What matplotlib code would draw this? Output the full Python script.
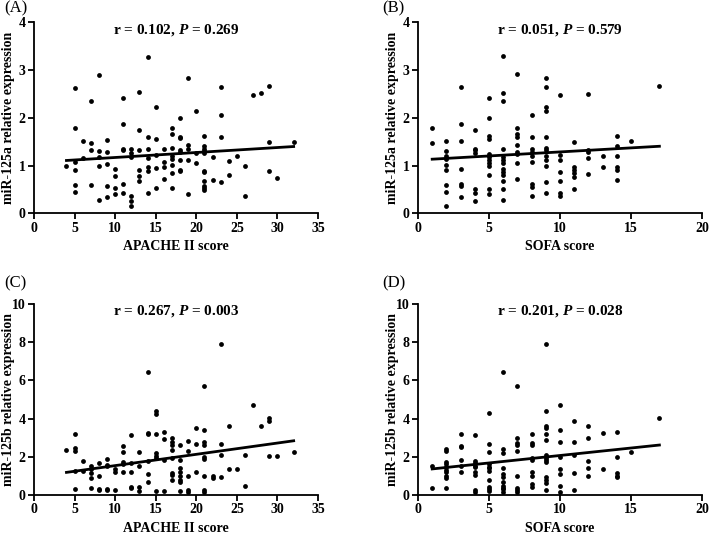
import numpy as np
import matplotlib
matplotlib.use('Agg')
import matplotlib.pyplot as plt

plt.rcParams['font.family'] = ['Liberation Serif', 'DejaVu Serif']
plt.rcParams['font.weight'] = 'bold'
plt.rcParams['mathtext.fontset'] = 'custom'
plt.rcParams['mathtext.rm'] = 'Liberation Serif:bold'
plt.rcParams['mathtext.it'] = 'Liberation Serif:italic:bold'

# score -> expression values
# (A) miR-125a vs APACHE II
apache_125a = {
    4: [1.00],
    5: [2.63, 1.80, 1.07, 0.91, 0.60, 0.44],
    6: [1.52, 1.16],
    7: [2.35, 1.47, 1.33, 0.60],
    8: [2.91, 1.31, 1.19, 1.00, 0.28],
    9: [1.53, 1.28, 1.04, 0.58, 0.35],
    10: [0.94, 0.79, 0.53, 0.40],
    11: [2.42, 1.88, 1.35, 1.32, 0.61, 0.43],
    12: [1.35, 1.27, 1.19, 0.36, 0.27, 0.16],
    13: [2.54, 1.75, 1.32, 0.91, 0.79, 0.69],
    14: [3.28, 1.60, 1.35, 1.16, 0.98, 0.88, 0.42],
    15: [2.23, 1.55, 1.23, 0.95, 0.53],
    16: [1.36, 1.07, 0.98, 0.72],
    17: [1.80, 1.66, 1.37, 1.21, 1.14, 1.02, 0.84, 0.54],
    18: [2.00, 1.61, 1.59, 1.33, 1.28, 1.12, 0.91, 0.89],
    19: [2.83, 1.43, 1.36, 1.13, 0.41],
    20: [2.14, 1.26, 1.06],
    21: [1.62, 1.41, 1.35, 1.30, 1.26, 0.89, 0.87, 0.69, 0.58, 0.53, 0.49],
    22: [1.18, 0.70],
    23: [2.65, 2.07, 1.61, 0.65],
    24: [1.10, 0.81],
    25: [1.20],
    26: [0.99, 0.36],
    27: [2.48],
    28: [2.52],
    29: [2.67, 1.50, 0.88],
    30: [0.74],
    32: [1.50],
}

# (B) miR-125a vs SOFA
sofa_125a = {
    1: [1.80, 1.47],
    2: [1.52, 1.31, 1.21, 1.15, 1.01, 0.91, 0.59, 0.44, 0.16],
    3: [2.64, 1.88, 1.52, 0.94, 0.61, 0.58, 0.35],
    4: [1.75, 1.36, 1.32, 1.27, 0.52, 0.43, 0.26],
    5: [2.42, 1.99, 1.62, 1.55, 1.24, 1.19, 1.13, 1.06, 1.00, 0.80, 0.52, 0.40],
    6: [3.29, 2.53, 2.35, 1.35, 1.19, 1.13, 1.05, 0.94, 0.87, 0.80, 0.68, 0.52, 0.28],
    7: [2.92, 1.80, 1.66, 1.61, 1.43, 1.29, 1.24, 1.06, 0.72],
    8: [2.07, 1.61, 1.35, 1.28, 1.20, 1.07, 0.61, 0.56, 0.36],
    9: [2.84, 2.64, 2.23, 2.14, 1.61, 1.38, 1.33, 1.21, 1.12, 0.99, 0.66, 0.42],
    10: [2.48, 1.22, 1.13, 0.87, 0.69, 0.42, 0.37],
    11: [1.50, 0.98, 0.91, 0.85, 0.77, 0.51],
    12: [2.51, 1.34, 1.29, 1.17, 0.82],
    13: [1.21, 0.98],
    14: [1.62, 1.42, 1.20, 0.98, 0.91, 0.70],
    15: [1.51],
    17: [2.66],
}

# (C) miR-125b vs APACHE II
apache_125b = {
    4: [2.36],
    5: [3.20, 2.48, 2.28, 1.25, 0.32],
    6: [1.78, 1.27],
    7: [1.50, 1.34, 1.13, 0.87, 0.36],
    8: [1.69, 1.00, 0.31, 0.27],
    9: [1.86, 1.55, 1.50, 0.34, 0.27],
    10: [1.36, 1.19, 0.26],
    11: [2.55, 2.23, 1.75, 1.61, 1.22],
    12: [3.14, 1.66, 1.22, 0.44, 0.35],
    13: [2.23, 1.51, 0.42, 0.21],
    14: [6.44, 3.23, 3.18, 1.78, 1.08, 0.70],
    15: [4.42, 4.24, 3.18, 2.18, 2.06, 1.92, 0.21],
    16: [3.32, 2.93, 1.83, 0.20],
    17: [2.97, 2.79, 2.62, 2.34, 1.95, 1.13, 1.05, 0.79],
    18: [2.62, 1.83, 1.40, 1.22, 1.01, 0.79, 0.66, 0.21],
    19: [2.84, 2.32, 1.01, 0.26, 0.17],
    20: [3.49, 2.65, 1.22],
    21: [5.71, 3.42, 2.79, 2.62, 1.97, 1.87, 1.01, 0.26, 0.17],
    22: [1.01, 0.91],
    23: [7.91, 2.67, 2.09, 0.92],
    24: [3.61, 1.36],
    25: [1.36],
    26: [2.09, 0.49],
    27: [4.71],
    28: [3.61],
    29: [4.05, 3.87, 2.06],
    30: [2.06],
    32: [2.27],
}

# (D) miR-125b vs SOFA
sofa_125b = {
    1: [1.52, 0.35],
    2: [2.39, 2.30, 1.75, 1.62, 1.48, 1.31, 1.19, 0.99, 0.87, 0.38],
    3: [3.19, 2.59, 2.49, 1.84, 1.52, 1.22],
    4: [3.14, 1.78, 1.66, 1.54, 1.45, 1.22, 1.05, 0.26, 0.17],
    5: [4.28, 2.65, 2.23, 1.62, 1.48, 1.40, 1.26, 0.79, 0.44, 0.31, 0.21],
    6: [6.44, 2.39, 2.22, 1.43, 1.08, 0.96, 0.70, 0.45, 0.38, 0.31, 0.17],
    7: [5.71, 2.97, 2.71, 2.62, 2.30, 0.99, 0.38, 0.26, 0.17],
    8: [3.18, 2.71, 2.62, 1.95, 1.83, 1.22, 0.99, 0.58, 0.44],
    9: [7.91, 4.40, 3.61, 3.49, 3.18, 2.88, 2.09, 1.95, 1.83, 1.75, 0.92, 0.79, 0.65, 0.26],
    10: [4.71, 3.42, 2.79, 1.97, 1.36, 1.08, 0.49, 0.17],
    11: [3.87, 2.79, 2.09, 1.13, 0.26],
    12: [3.61, 2.97, 1.80, 1.40, 1.01],
    13: [3.26, 1.36],
    14: [3.32, 1.97, 1.13, 1.01, 0.92],
    15: [2.27],
    17: [4.05],
}

stats = ['r = 0.102, $P$ = 0.269', 'r = 0.051, $P$ = 0.579',
         'r = 0.267, $P$ = 0.003', 'r = 0.201, $P$ = 0.028']
tags = ['(A)', '(B)', '(C)', '(D)']


def expand(d):
    x = np.concatenate([[k] * len(v) for k, v in d.items()]).astype(float)
    y = np.concatenate([v for v in d.values()])
    return x, y


def panel(ax, pts, xmax, ymax, ystep, xlabel, ylabel, stat):
    x, y = expand(pts)
    ax.scatter(x, y, s=12, c='black', linewidths=0, zorder=3, clip_on=False)
    # least-squares line over the observed score range
    k, b = np.polyfit(x, y, 1)
    xx = np.array([x.min(), x.max()])
    ax.plot(xx, k * xx + b, color='black', lw=2, zorder=2)

    ax.set_xlim(0, xmax)
    ax.set_ylim(0, ymax)
    ax.set_xticks(np.arange(0, xmax + 1, 5))
    ax.set_yticks(np.arange(0, ymax + 0.1, ystep))
    for s in ['top', 'right']:
        ax.spines[s].set_visible(False)
    for s in ['left', 'bottom']:
        ax.spines[s].set_linewidth(1.3)
    ax.tick_params(direction='out', length=4, width=1.3, labelsize=10, pad=2)
    ax.set_xlabel(xlabel, fontsize=10, fontweight='bold')
    ax.set_ylabel(ylabel, fontsize=10, fontweight='bold')
    ax.xaxis.set_label_coords(0.5, -0.14)
    ax.yaxis.set_label_coords(-0.066, 0.5)
    ax.text(0.5, 0.963, stat, transform=ax.transAxes, ha='center', va='center',
            fontsize=11, fontweight='bold')


W, H = 709, 534
fig = plt.figure(figsize=(W / 100, H / 100), dpi=100)

ax_w = 284 / W
ax_h = 191 / H
axA = fig.add_axes([34 / W, 1 - 213.5 / H, ax_w, ax_h])
axB = fig.add_axes([418 / W, 1 - 213.5 / H, ax_w, ax_h])
axC = fig.add_axes([34 / W, 1 - 495 / H, ax_w, ax_h])
axD = fig.add_axes([418 / W, 1 - 495 / H, ax_w, ax_h])

panel(axA, apache_125a, 35, 4, 1, 'APACHE II score', 'miR-125a relative expression', stats[0])
panel(axB, sofa_125a, 20, 4, 1, 'SOFA score', 'miR-125a relative expression', stats[1])
panel(axC, apache_125b, 35, 10, 2, 'APACHE II score', 'miR-125b relative expression', stats[2])
panel(axD, sofa_125b, 20, 10, 2, 'SOFA score', 'miR-125b relative expression', stats[3])

tag_pos = [(4, 8), (382, 8), (4, 283), (382, 283)]
for t, (px, py) in zip(tags, tag_pos):
    fig.text(px / W, 1 - py / H, t, ha='left', va='center', fontsize=12,
             fontweight='normal')

fig.savefig('out.png', dpi=100)
